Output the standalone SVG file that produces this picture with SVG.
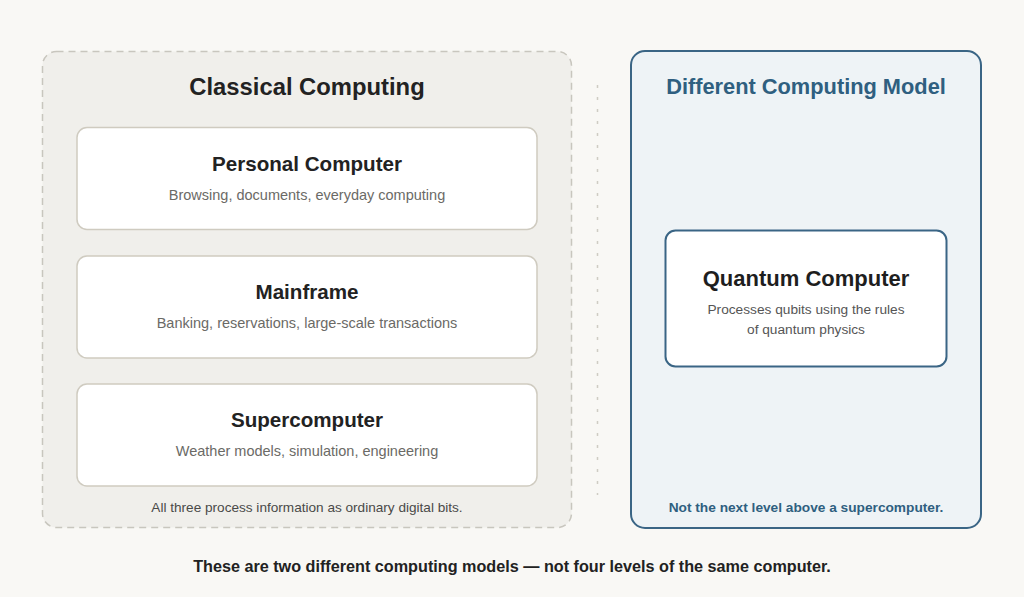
<svg xmlns="http://www.w3.org/2000/svg" width="1024" height="597" viewBox="0 0 1024 597">
<style>
text{font-family:"Liberation Sans",Arial,sans-serif;text-anchor:middle}
.card{fill:#ffffff;stroke:#cfcbc0;stroke-width:1.5}
.ttl{font-size:20.6px;font-weight:bold;fill:#222222}
.sub{font-size:14.5px;fill:#6b6a66}
.qsub{font-size:13.7px;fill:#555555}
</style>
<rect width="1024" height="597" fill="#f9f8f5"/>
<g id="classical">
<rect x="42.5" y="51.5" width="529" height="476" rx="14" fill="#f0efeb" stroke="#c8c6be" stroke-width="1.5" stroke-dasharray="7 5"/>
<text x="307" y="94.5" font-size="23.8" font-weight="bold" fill="#222222">Classical Computing</text>
<text x="307" y="512" font-size="13.6" fill="#4a4a48">All three process information as ordinary digital bits.</text>
</g>
<g id="pc">
<rect class="card" x="77" y="127.5" width="460" height="102" rx="10"/>
<text class="ttl" x="307" y="170.5">Personal Computer</text>
<text class="sub" x="307" y="199.5">Browsing, documents, everyday computing</text>
</g>
<g id="mainframe">
<rect class="card" x="77" y="256" width="460" height="102" rx="10"/>
<text class="ttl" x="307" y="298.5">Mainframe</text>
<text class="sub" x="307" y="327.5">Banking, reservations, large-scale transactions</text>
</g>
<g id="supercomputer">
<rect class="card" x="77" y="384" width="460" height="102" rx="10"/>
<text class="ttl" x="307" y="426.5">Supercomputer</text>
<text class="sub" x="307" y="455.5">Weather models, simulation, engineering</text>
</g>
<g id="connectors">
<line x1="597.5" y1="85" x2="597.5" y2="495" stroke="#cfccc4" stroke-width="1.5" stroke-dasharray="3 9"/>
</g>
<g id="different">
<rect x="631" y="51" width="350" height="477" rx="14" fill="#eef3f6" stroke="#3a6585" stroke-width="2"/>
<text x="806" y="94" font-size="21.8" font-weight="bold" fill="#2f5f80">Different Computing Model</text>
<text x="806" y="512" font-size="13.7" font-weight="bold" fill="#2f5f80">Not the next level above a supercomputer.</text>
</g>
<g id="quantum">
<rect x="665.5" y="230.5" width="281" height="136" rx="10" fill="#ffffff" stroke="#3a6585" stroke-width="2"/>
<text x="806" y="286" font-size="22" font-weight="bold" fill="#1e1e1e">Quantum Computer</text>
<text class="qsub" x="806" y="314">Processes qubits using the rules</text>
<text class="qsub" x="806" y="334">of quantum physics</text>
</g>
<text x="512" y="571.5" font-size="16.2" font-weight="bold" fill="#222222">These are two different computing models — not four levels of the same computer.</text>
</svg>
